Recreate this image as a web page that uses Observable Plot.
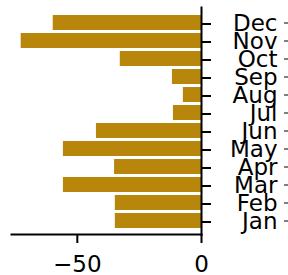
<!DOCTYPE html>
<html><head><meta charset="utf-8">
<script src="https://cdn.jsdelivr.net/npm/d3@7"></script>
<script src="https://cdn.jsdelivr.net/npm/@observablehq/plot@0.6"></script>
<style>body{margin:0;background:#fff}</style></head>
<body><div id="chart"></div>
<script>
const months = ["Jan","Feb","Mar","Apr","May","Jun","Jul","Aug","Sep","Oct","Nov","Dec"];
const values = [-34.7, -34.7, -55.6, -35.0, -55.6, -42.3, -11.3, -7.3, -11.7, -32.7, -72.6, -59.7];
const xTicks = [-50, 0];
const data = months.map((m, i) => ({month: m, value: values[i]}));

const chart = Plot.plot({
  width: 288, height: 275,
  marginLeft: 11, marginRight: 87, marginTop: 7, marginBottom: 41,
  style: {fontFamily: "DejaVu Sans", fontSize: "22px", background: "white", color: "black"},
  x: {domain: [-76.5, 0]},
  y: {domain: months.slice().reverse(), range: [10, 233.3], paddingInner: 0.16, paddingOuter: 0},
  marks: [
    Plot.barX(data, {x: "value", y: "month", fill: "#b8860b"}),
    Plot.frame({anchor: "right", strokeWidth: 2}),
    Plot.frame({anchor: "bottom", strokeWidth: 2}),
    Plot.axisX({ticks: xTicks, tickSize: 9, tickPadding: 12, strokeWidth: 2, fontSize: 23, label: null}),
    Plot.axisY({anchor: "right", tickSize: 9, tickPadding: 67, textAnchor: "end", strokeWidth: 2, fontSize: 23, dy: 1, label: null}),
    Plot.axisY({anchor: "right", tickSize: 5, dx: 82, tickFormat: () => "", label: null})
  ]
});
document.getElementById("chart").appendChild(chart);
</script>
</body></html>
